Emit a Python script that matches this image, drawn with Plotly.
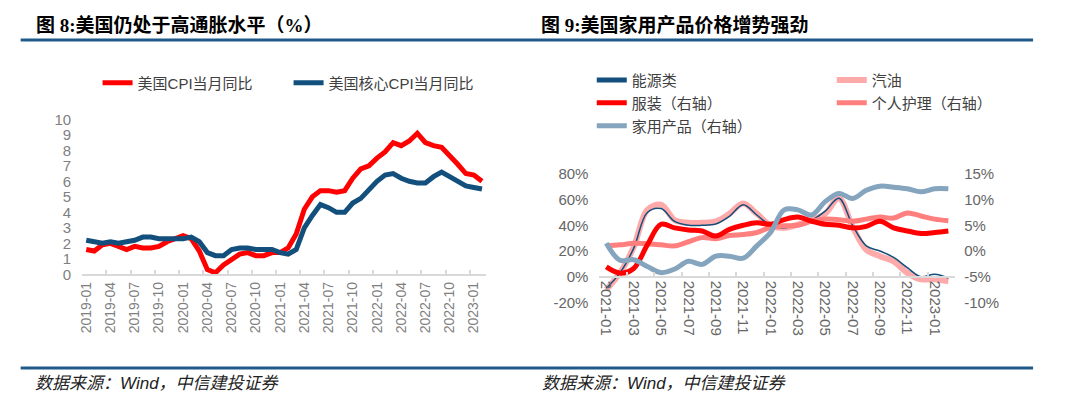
import plotly.graph_objects as go
import pandas as pd

# ---------------- data: figure 8 (US CPI, %) ----------------
cpi_months = pd.period_range("2019-01", "2023-02", freq="M").strftime("%Y-%m").tolist()
cpi_headline = [1.6, 1.5, 1.9, 2.0, 1.8, 1.6, 1.8, 1.7, 1.7, 1.8, 2.1, 2.3,
                2.5, 2.3, 1.5, 0.3, 0.1, 0.6, 1.0, 1.3, 1.4, 1.2, 1.2, 1.4,
                1.4, 1.7, 2.6, 4.2, 5.0, 5.4, 5.4, 5.3, 5.4, 6.2, 6.8, 7.0,
                7.5, 7.9, 8.5, 8.3, 8.6, 9.1, 8.5, 8.3, 8.2, 7.7, 7.1, 6.5,
                6.4, 6.0]
cpi_core = [2.2, 2.1, 2.0, 2.1, 2.0, 2.1, 2.2, 2.4, 2.4, 2.3, 2.3, 2.3,
            2.3, 2.4, 2.1, 1.4, 1.2, 1.2, 1.6, 1.7, 1.7, 1.6, 1.6, 1.6,
            1.4, 1.3, 1.6, 3.0, 3.8, 4.5, 4.3, 4.0, 4.0, 4.6, 4.9, 5.5,
            6.0, 6.4, 6.5, 6.2, 6.0, 5.9, 5.9, 6.3, 6.6, 6.3, 6.0, 5.7,
            5.6, 5.5]
cpi_ticks = list(range(0, 11))

# ---------------- data: figure 9 (US household goods prices) ----------------
home_months = pd.period_range("2021-01", "2023-02", freq="M").strftime("%Y-%m").tolist()
energy = [-9, 3, 22, 50, 53, 43, 40, 40, 41, 47, 56, 48, 40,
          38, 41, 44, 51, 61, 40, 24, 20, 15, 7, 0, 2, -1]
gasoline = [-10, 3, 23, 52, 56, 44, 42, 42, 43, 49, 57, 49, 40,
            38, 40.5, 44, 49, 61, 39, 21, 16, 12, 3, -2, -2, -3.5]
apparel = [-3.1, -4.3, -3.4, 1.2, 5.2, 4.5, 4.1, 3.9, 2.9, 4.2, 5.0, 5.5, 5.2,
           6.1, 6.6, 5.8, 5.2, 5.0, 4.5, 4.8, 5.8, 4.5, 3.9, 3.4, 3.6, 3.9]
personal_care = [1.0, 1.2, 1.5, 1.4, 1.2, 1.0, 1.8, 2.6, 2.4, 3.0, 3.2, 3.6, 4.6,
                 4.9, 5.0, 5.8, 6.2, 6.1, 5.8, 6.2, 6.6, 6.4, 7.4, 6.8, 6.2, 5.9]
household = [1.5, -1.8, -1.7, -3.0, -4.2, -3.5, -2.0, -2.6, -1.0, -1.0, -1.4, 1.0, 3.6,
             8.0, 8.0, 7.0, 9.6, 11.2, 10.2, 11.8, 12.6, 12.4, 12.1, 11.5, 12.1, 12.1]
left_ticks = [-20, 0, 20, 40, 60, 80]
right_ticks = [-10, -5, 0, 5, 10, 15]

# page body keeps an 8px margin, so the figure is sized to fill the window exactly
OFF = 8
W, H = 1080 - 2 * OFF, 407 - 2 * OFF


def px(x):
    return (x - OFF) / W


def py(y):
    return 1 - (y - OFF) / H


FONT = "Liberation Sans, Noto Sans CJK SC, sans-serif"
TITLE_FONT = "Liberation Serif, Noto Sans CJK SC, serif"
GRAY = "#7f7f7f"
AXIS = "#d9d9d9"

fig = go.Figure()

# ---- left chart ----
fig.add_trace(go.Scatter(x=cpi_months, y=cpi_headline, name="美国CPI当月同比", mode="lines",
                         line=dict(color="#ff0000", width=5), xaxis="x", yaxis="y",
                         legend="legend"))
fig.add_trace(go.Scatter(x=cpi_months, y=cpi_core, name="美国核心CPI当月同比", mode="lines",
                         line=dict(color="#124f7c", width=5), xaxis="x", yaxis="y",
                         legend="legend"))

# ---- right chart ----
sp = dict(shape="spline", smoothing=1.0)
fig.add_trace(go.Scatter(x=home_months, y=gasoline, name="汽油", mode="lines",
                         line=dict(color="#ffaaaa", width=6, **sp), xaxis="x2", yaxis="y2",
                         legend="legend2", legendrank=2))
fig.add_trace(go.Scatter(x=home_months, y=energy, name="能源类", mode="lines",
                         line=dict(color="#124f7c", width=1.5, **sp), xaxis="x2", yaxis="y2",
                         showlegend=False))
# legend entry for the energy series (thick swatch as in the original legend)
fig.add_trace(go.Scatter(x=home_months[:1], y=[None], name="能源类", mode="lines",
                         line=dict(color="#124f7c", width=5), xaxis="x2", yaxis="y2",
                         legend="legend2", legendrank=1, hoverinfo="skip"))
fig.add_trace(go.Scatter(x=home_months, y=personal_care, name="个人护理（右轴）", mode="lines",
                         line=dict(color="#ff7f7f", width=5, **sp), xaxis="x2", yaxis="y3",
                         legend="legend3", legendrank=2))
fig.add_trace(go.Scatter(x=home_months, y=apparel, name="服装（右轴）", mode="lines",
                         line=dict(color="#ff0000", width=5, **sp), xaxis="x2", yaxis="y3",
                         legend="legend3", legendrank=1))
fig.add_trace(go.Scatter(x=home_months, y=household, name="家用产品（右轴）", mode="lines",
                         line=dict(color="#85a5bf", width=5, **sp), xaxis="x2", yaxis="y3",
                         legend="legend4", legendrank=1))

cat_x = dict(type="category", tickson="boundaries", tickmode="linear", tick0=0,
             showline=True, linecolor=AXIS, linewidth=2, ticks="inside", ticklen=4,
             tickcolor=AXIS, tickwidth=1.5, showgrid=False, zeroline=False,
             tickfont=dict(family=FONT, size=14, color=GRAY), fixedrange=True)

leg = dict(orientation="h", xanchor="left", yanchor="middle", bgcolor="rgba(0,0,0,0)",
           font=dict(family=FONT, size=15, color="#404040"), entrywidthmode="pixels",
           itemclick=False, traceorder="normal")

fig.update_layout(
    width=W, height=H, margin=dict(l=0, r=0, t=0, b=0),
    paper_bgcolor="white", plot_bgcolor="white",
    xaxis=dict(cat_x, domain=[px(81), px(501)], anchor="y", dtick=3, tickangle=-90,
               range=[-0.5, len(cpi_months) - 0.5]),
    yaxis=dict(domain=[py(277), py(115)], anchor="x", range=[0, 10], tickvals=cpi_ticks,
               showgrid=False, zeroline=False, showline=False, ticks="",
               ticklabelstandoff=10,
               tickfont=dict(family=FONT, size=15, color=GRAY)),
    xaxis2=dict(cat_x, domain=[px(619), px(989)], anchor="free", position=py(279.5),
                dtick=2, tickangle=90, range=[-0.5, len(home_months) - 0.5],
                tickfont=dict(family=FONT, size=15, color="#666666")),
    yaxis2=dict(domain=[py(306.4), py(172)], anchor="x2", range=[-20, 80],
                tickvals=left_ticks, ticktext=[f"{v}%" for v in left_ticks],
                showgrid=False, zeroline=False, showline=False, ticks="",
                ticklabelstandoff=10,
                tickfont=dict(family=FONT, size=15, color="#666666")),
    yaxis3=dict(domain=[py(306.4), py(172)], anchor="x2", overlaying="y2", side="right",
                range=[-10, 15], tickvals=right_ticks,
                ticktext=[f"{v}%" for v in right_ticks],
                showgrid=False, zeroline=False, showline=False, ticks="",
                ticklabelstandoff=8,
                tickfont=dict(family=FONT, size=15, color="#666666")),
    legend=dict(leg, x=px(97), y=py(77), entrywidth=146),
    legend2=dict(leg, x=px(611), y=py(74), entrywidth=195),
    legend3=dict(leg, x=px(611), y=py(98), entrywidth=195),
    legend4=dict(leg, x=px(611), y=py(122), entrywidth=195),
    showlegend=True,
)

# titles, rules and source notes
fig.add_annotation(text="<b>图 8:美国仍处于高通胀水平（%）</b>", x=px(31), y=py(16),
                   xref="paper", yref="paper", xanchor="left", yanchor="middle",
                   showarrow=False, font=dict(family=TITLE_FONT, size=19, color="#000"))
fig.add_annotation(text="<b>图 9:美国家用产品价格增势强劲</b>", x=px(556), y=py(16),
                   xref="paper", yref="paper", xanchor="left", yanchor="middle",
                   showarrow=False, font=dict(family=TITLE_FONT, size=19, color="#000"))
for xs in (30, 557):
    fig.add_annotation(text="<i>数据来源：Wind，中信建投证券</i>", x=px(xs), y=py(391),
                       xref="paper", yref="paper", xanchor="left", yanchor="middle",
                       showarrow=False, font=dict(family=FONT, size=17, color="#222"))
for yy in (32, 375):
    fig.add_shape(type="line", xref="paper", yref="paper", x0=px(17), x1=px(1070),
                  y0=py(yy), y1=py(yy), line=dict(color="#1f5a8a", width=3))

fig.write_html("out.html")
